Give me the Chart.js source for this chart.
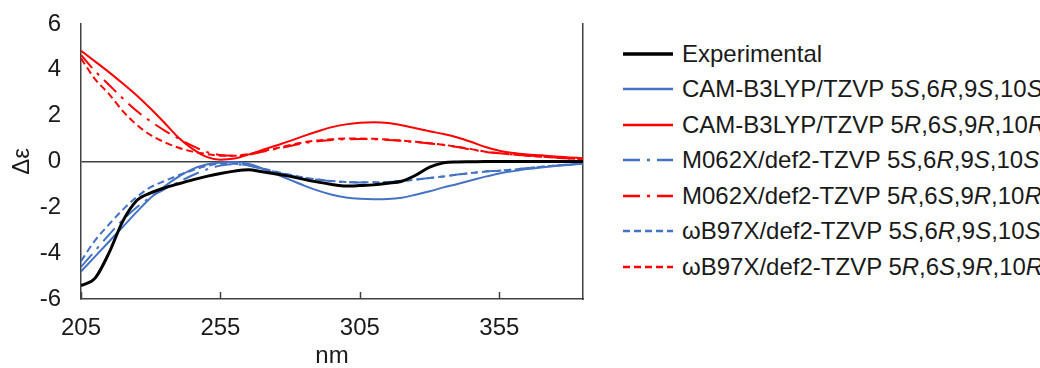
<!DOCTYPE html>
<html lang="en">
<head>
  <meta charset="UTF-8" />
  <title>ECD spectra</title>
  <script src="https://cdn.jsdelivr.net/npm/chart.js"></script>
  <style>
    body { margin: 0; width: 1040px; height: 368px; overflow: hidden; background: #fff; font-family: "Liberation Sans", Arial, sans-serif; }
    #wrap { position: absolute; left: 0; top: 0; width: 600px; height: 368px; }
    #legend { position: absolute; left: 623px; top: 36px; margin: 0; padding: 0; list-style: none; white-space: nowrap; }
    #legend li { height: 35.5px; display: flex; align-items: center; font-size: 24px; color: #1a1a1a; }
    #legend svg { width: 50px; height: 6px; margin-right: 9px; flex: none; }
  </style>
</head>
<body>
  <div id="wrap"><canvas id="cd" width="600" height="368"></canvas></div>
  <ul id="legend"></ul>

  <script>
    // wavelengths (nm)
    const nm = [205, 210, 215, 220, 225, 230, 235, 240, 245, 250, 255, 260, 265, 270, 275, 280, 285, 290, 295,
                300, 305, 310, 315, 320, 325, 330, 335, 340, 345, 350, 355, 360, 365, 370, 375, 380, 385];
    const xTicks = [205, 255, 305, 355];

    const experimental = [-5.42, -5.1, -4.0, -2.6, -1.7, -1.37, -1.15, -0.97, -0.8, -0.65, -0.52, -0.42, -0.36, -0.45, -0.55, -0.65, -0.78, -0.9, -1.0,
                          -1.07, -1.05, -1.02, -0.95, -0.86, -0.6, -0.25, -0.06, -0.02, -0.01, 0, 0, 0, 0, 0, 0, 0, 0];
    const camS = [-4.8, -4.15, -3.5, -2.85, -2.2, -1.58, -1.08, -0.66, -0.33, -0.13, -0.04, -0.02, -0.1, -0.3, -0.55, -0.8, -1.05, -1.27, -1.45,
                  -1.57, -1.63, -1.65, -1.64, -1.58, -1.45, -1.3, -1.13, -0.98, -0.82, -0.66, -0.52, -0.42, -0.33, -0.26, -0.2, -0.15, -0.1];
    const camR = [4.83, 4.37, 3.9, 3.4, 2.88, 2.3, 1.68, 1.04, 0.55, 0.2, 0.08, 0.13, 0.3, 0.5, 0.7, 0.9, 1.12, 1.32, 1.5,
                  1.62, 1.69, 1.71, 1.68, 1.58, 1.45, 1.32, 1.2, 1.05, 0.85, 0.63, 0.47, 0.37, 0.31, 0.27, 0.22, 0.18, 0.14];
    const m06S = [-4.6, -3.9, -3.2, -2.55, -2.0, -1.55, -1.2, -0.9, -0.6, -0.35, -0.18, -0.12, -0.18, -0.32, -0.47, -0.6, -0.72, -0.8, -0.86,
                  -0.9, -0.92, -0.92, -0.9, -0.85, -0.79, -0.72, -0.65, -0.57, -0.5, -0.44, -0.4, -0.35, -0.29, -0.23, -0.18, -0.13, -0.1];
    const m06R = [4.65, 3.95, 3.35, 2.75, 2.2, 1.75, 1.35, 1.0, 0.68, 0.42, 0.28, 0.25, 0.3, 0.42, 0.55, 0.68, 0.8, 0.88, 0.94,
                  0.97, 0.98, 0.97, 0.94, 0.9, 0.85, 0.79, 0.72, 0.63, 0.52, 0.42, 0.36, 0.3, 0.26, 0.22, 0.17, 0.13, 0.1];
    const wbS = [-4.35, -3.45, -2.75, -2.1, -1.55, -1.12, -0.85, -0.6, -0.38, -0.2, -0.1, -0.1, -0.17, -0.3, -0.45, -0.58, -0.7, -0.79, -0.85,
                 -0.89, -0.91, -0.91, -0.89, -0.85, -0.79, -0.72, -0.65, -0.57, -0.5, -0.44, -0.4, -0.35, -0.29, -0.23, -0.18, -0.13, -0.1];
    const wbR = [4.5, 3.6, 2.95, 2.2, 1.6, 1.15, 0.84, 0.6, 0.43, 0.33, 0.25, 0.25, 0.32, 0.45, 0.58, 0.72, 0.84, 0.92, 0.97,
                 1.0, 1.0, 0.99, 0.96, 0.91, 0.86, 0.8, 0.73, 0.64, 0.54, 0.43, 0.36, 0.3, 0.25, 0.21, 0.17, 0.13, 0.1];

    const methods = ['CAM-B3LYP/TZVP', 'M062X/def2-TZVP', 'ωB97X/def2-TZVP'];
    const configs = ['5S,6R,9S,10S', '5R,6S,9R,10R'];

    const BLACK = '#000000', BLUE = '#4472C4', RED = '#FF0000', AXIS = '#404040', TEXT = '#1a1a1a';
    const DASHDOT = [17, 7, 3, 7], DASH = [7, 4];

    const series = [
      { label: 'Experimental', data: experimental, color: BLACK, width: 3, dash: [] },
      { label: methods[0] + ' ' + configs[0], data: camS, color: BLUE, width: 2, dash: [] },
      { label: methods[0] + ' ' + configs[1], data: camR, color: RED, width: 2, dash: [] },
      { label: methods[1] + ' ' + configs[0], data: m06S, color: BLUE, width: 2, dash: DASHDOT },
      { label: methods[1] + ' ' + configs[1], data: m06R, color: RED, width: 2, dash: DASHDOT },
      { label: methods[2] + ' ' + configs[0], data: wbS, color: BLUE, width: 2, dash: DASH },
      { label: methods[2] + ' ' + configs[1], data: wbR, color: RED, width: 2, dash: DASH }
    ];

    // tick marks drawn inside the plot, pointing up from the x axis
    const innerTicks = {
      id: 'innerTicks',
      afterDraw(chart) {
        const { ctx, chartArea, scales: { x } } = chart;
        ctx.save();
        ctx.strokeStyle = AXIS;
        ctx.lineWidth = 1.5;
        x.ticks.forEach(t => {
          const px = Math.round(x.getPixelForValue(t.value)) + 0.5;
          ctx.beginPath();
          ctx.moveTo(px, chartArea.bottom);
          ctx.lineTo(px, chartArea.bottom - 7);
          ctx.stroke();
        });
        ctx.restore();
      }
    };

    const font = { family: '"Liberation Sans", Arial, sans-serif', size: 24 };

    new Chart(document.getElementById('cd'), {
      type: 'line',
      data: {
        datasets: series.map(s => ({
          label: s.label,
          data: nm.map((v, i) => ({ x: v, y: s.data[i] })),
          borderColor: s.color,
          borderWidth: s.width,
          borderDash: s.dash,
          pointRadius: 0,
          cubicInterpolationMode: 'monotone',
          fill: false
        }))
      },
      options: {
        responsive: false,
        animation: false,
        layout: { padding: { top: 24, right: 17, left: 0, bottom: 0 } },
        plugins: { legend: { display: false }, tooltip: { enabled: false } },
        scales: {
          x: {
            type: 'linear', min: 205, max: 385,
            afterBuildTicks: s => { s.ticks = xTicks.map(v => ({ value: v })); },
            afterFit: s => { s.height = 69; s.paddingLeft = 0; s.paddingRight = 0; },
            ticks: { font, color: TEXT, padding: 15, maxRotation: 0 },
            grid: { display: true, color: 'transparent', drawTicks: false },
            border: { display: true, color: AXIS, width: 1.5 },
            title: { display: true, text: 'nm', font: { ...font, lineHeight: 1 }, color: TEXT, padding: { top: 0, bottom: 0 } }
          },
          y: {
            min: -6, max: 6,
            afterFit: s => { s.width = 81; s.paddingTop = 0; s.paddingBottom = 0; },
            ticks: { stepSize: 2, font, color: TEXT, padding: 20 },
            grid: { color: c => (c.tick && c.tick.value === 0 ? AXIS : 'transparent'), lineWidth: 1.5, drawTicks: false },
            border: { display: true, color: AXIS, width: 1.5 },
            title: { display: true, text: 'Δε', font, color: TEXT, padding: { top: 8, bottom: 0 } }
          },
          y2: {
            position: 'right', min: -6, max: 6,
            afterFit: s => { s.width = 0; s.paddingTop = 0; s.paddingBottom = 0; },
            ticks: { display: false },
            grid: { display: false, drawTicks: false },
            border: { display: true, color: AXIS, width: 1.5 }
          }
        }
      },
      plugins: [innerTicks]
    });

    // legend with italic stereo descriptors
    const legend = document.getElementById('legend');
    series.forEach(s => {
      const li = document.createElement('li');
      const dash = s.dash.length ? s.dash.join(' ') : 'none';
      li.innerHTML =
        `<svg viewBox="0 0 50 6"><line x1="0" y1="3" x2="50" y2="3" stroke="${s.color}" stroke-width="${s.width + 0.5}" stroke-dasharray="${dash}"/></svg>` +
        '<span>' + s.label.replace(/(\d)([SR])/g, '$1<i>$2</i>') + '</span>';
      legend.appendChild(li);
    });
  </script>
</body>
</html>
